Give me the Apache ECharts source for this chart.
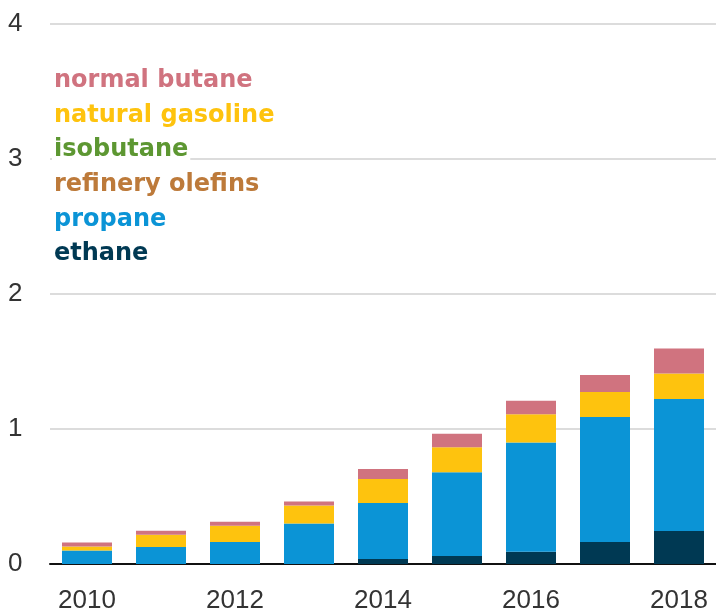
<!DOCTYPE html>
<html>
<head>
<meta charset="utf-8">
<script src="https://cdn.jsdelivr.net/npm/echarts@6/dist/echarts.min.js"></script>
<style>
  html, body { margin: 0; padding: 0; background: #fff; }
  #chart { width: 716px; height: 611px; }
</style>
</head>
<body>
<div id="chart"></div>
<script>
// million barrels per day
const years = ['2010', '2011', '2012', '2013', '2014', '2015', '2016', '2017', '2018'];
const ethane = [0, 0, 0, 0, 0.037, 0.06, 0.09, 0.163, 0.244];
const propane = [0.10, 0.126, 0.163, 0.30, 0.415, 0.62, 0.81, 0.926, 0.978];
const refineryOlefins = [0, 0, 0, 0, 0, 0, 0, 0, 0];
const isobutane = [0, 0, 0, 0, 0, 0, 0, 0, 0];
const naturalGasoline = [0.03, 0.09, 0.12, 0.133, 0.178, 0.185, 0.21, 0.185, 0.19];
const normalButane = [0.03, 0.03, 0.03, 0.03, 0.074, 0.10, 0.10, 0.126, 0.185];
const yTicks = [0, 1, 2, 3, 4];

const colors = {
  'normal butane': '#d0737f',
  'natural gasoline': '#fec30e',
  'isobutane': '#5d9732',
  'refinery olefins': '#bd7a3a',
  'propane': '#0b94d6',
  'ethane': '#003953'
};

const legendOrder = ['normal butane', 'natural gasoline', 'isobutane', 'refinery olefins', 'propane', 'ethane'];

function bar(name, data) {
  return {
    name: name,
    type: 'bar',
    stack: 'total',
    barWidth: 50,
    itemStyle: { color: colors[name] },
    emphasis: { disabled: true },
    data: data
  };
}

const chart = echarts.init(document.getElementById('chart'));
chart.setOption({
  animation: false,
  grid: { left: 50, right: 0, top: 24, bottom: 47, outerBoundsMode: 'none' },
  legend: {
    orient: 'vertical',
    left: 42,
    top: 64,
    icon: 'none',
    itemWidth: 0,
    itemHeight: 14,
    itemGap: 10.6,
    selectedMode: false,
    data: legendOrder.map(n => ({
      name: n,
      textStyle: {
        color: colors[n],
        fontFamily: 'DejaVu Sans',
        fontWeight: 'bold',
        fontSize: 24,
        lineHeight: 24,
        backgroundColor: '#fff',
        padding: [0, 2, 0, 2]
      }
    }))
  },
  xAxis: {
    type: 'category',
    data: years,
    axisTick: { show: false },
    axisLine: { lineStyle: { color: '#111', width: 2 } },
    axisLabel: {
      interval: 1,
      margin: 24,
      color: '#333',
      fontFamily: 'Liberation Sans',
      fontSize: 26
    }
  },
  yAxis: {
    type: 'value',
    min: yTicks[0],
    max: yTicks[yTicks.length - 1],
    interval: 1,
    axisLine: { show: false },
    axisTick: { show: false },
    splitLine: { lineStyle: { color: '#dcdcdc', width: 2 } },
    axisLabel: {
      align: 'left',
      margin: 42,
      color: '#333',
      fontFamily: 'Liberation Sans',
      fontSize: 26
    }
  },
  series: [
    bar('ethane', ethane),
    bar('propane', propane),
    bar('refinery olefins', refineryOlefins),
    bar('isobutane', isobutane),
    bar('natural gasoline', naturalGasoline),
    bar('normal butane', normalButane)
  ]
});
</script>
</body>
</html>
